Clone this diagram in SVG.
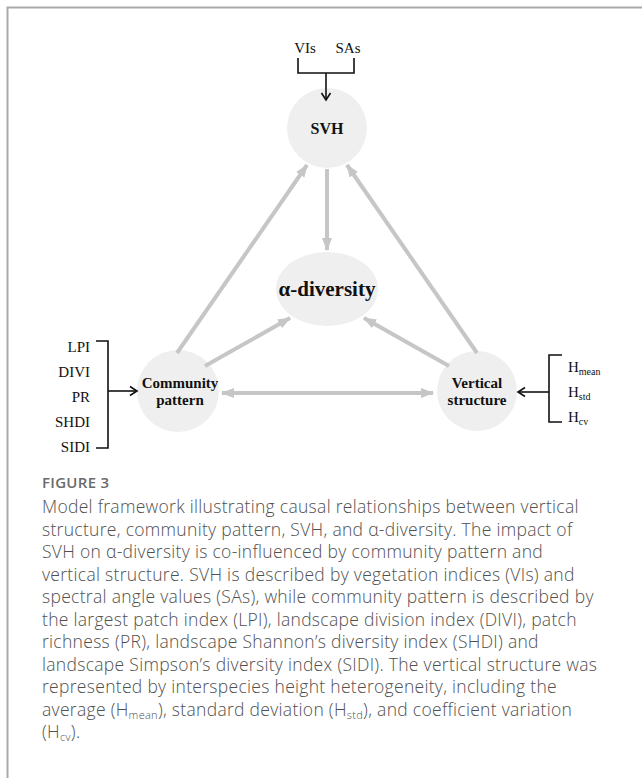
<svg xmlns="http://www.w3.org/2000/svg" width="642" height="778" viewBox="0 0 642 778">
<style>
.lbl{font-family:"Liberation Serif",serif;font-size:15px;fill:#111}
.nd{font-family:"Liberation Serif",serif;font-weight:bold;fill:#111}
.cap{font-family:"Open Sans","Noto Sans",sans-serif;font-size:17.5px;font-weight:300;letter-spacing:0.3px;fill:#505050}
.blk{stroke:#111;stroke-width:1.6;fill:none}
.gr{stroke:#c6c6c6;stroke-width:4;fill:none}
.node{fill:#efefef}
</style>
<defs>
<marker id="open" markerWidth="12" markerHeight="12" refX="9" refY="6" orient="auto" markerUnits="userSpaceOnUse">
<path d="M2,1.5 L9,6 L2,10.5" fill="none" stroke="#111" stroke-width="1.6"/>
</marker>
<marker id="gh" markerWidth="14" markerHeight="12" refX="12" refY="5" orient="auto-start-reverse" markerUnits="userSpaceOnUse">
<path d="M0,0 L13,5 L0,10 Z" fill="#c6c6c6"/>
</marker>
</defs>
<rect width="642" height="778" fill="#fff"/>
<path d="M7.5,778 V7.5 H642" fill="none" stroke="#aaa" stroke-width="2"/>

<g id="svh"><circle class="node" cx="327" cy="128" r="40"/><text class="nd" x="327" y="134" font-size="16" text-anchor="middle">SVH</text></g>
<g id="alpha"><ellipse class="node" cx="327" cy="289" rx="51" ry="37"/><text class="nd" x="327" y="296" font-size="21" text-anchor="middle">α-diversity</text></g>
<g id="community"><circle class="node" cx="178" cy="391" r="41"/><text class="nd" x="180" y="388" font-size="15" text-anchor="middle">Community</text><text class="nd" x="180" y="405" font-size="15" text-anchor="middle">pattern</text></g>
<g id="vertical"><circle class="node" cx="477" cy="391" r="40"/><text class="nd" x="477" y="388" font-size="15" text-anchor="middle">Vertical</text><text class="nd" x="477" y="405" font-size="15" text-anchor="middle">structure</text></g>

<g id="svh-inputs">
<text class="lbl" x="305" y="53" font-size="16" text-anchor="middle">VIs</text>
<text class="lbl" x="348" y="53" font-size="16" text-anchor="middle">SAs</text>
</g>
<g id="community-inputs">
<text class="lbl" x="90" y="352" text-anchor="end">LPI</text>
<text class="lbl" x="90" y="377" text-anchor="end">DIVI</text>
<text class="lbl" x="90" y="402" text-anchor="end">PR</text>
<text class="lbl" x="90" y="427" text-anchor="end">SHDI</text>
<text class="lbl" x="90" y="452" text-anchor="end">SIDI</text>
</g>
<g id="vertical-inputs">
<text class="lbl" x="568" y="372">H<tspan font-size="10" dy="3">mean</tspan></text>
<text class="lbl" x="568" y="397">H<tspan font-size="10" dy="3">std</tspan></text>
<text class="lbl" x="568" y="422">H<tspan font-size="10" dy="3">cv</tspan></text>
</g>

<g id="connectors">
<path class="blk" d="M298,58 V73 H354 V58"/>
<path class="blk" d="M326,73 V100" marker-end="url(#open)"/>
<path class="blk" d="M96,341 H108 V448 H96"/>
<path class="blk" d="M108,391 H137" marker-end="url(#open)"/>
<path class="blk" d="M562,355 H549 V422 H562"/>
<path class="blk" d="M549,392 H518" marker-end="url(#open)"/>
<line class="gr" x1="177" y1="353" x2="307" y2="165" marker-end="url(#gh)"/>
<line class="gr" x1="477" y1="353" x2="347" y2="165" marker-end="url(#gh)"/>
<line class="gr" x1="327" y1="169" x2="327" y2="250" marker-end="url(#gh)"/>
<line class="gr" x1="205" y1="366" x2="290" y2="318" marker-end="url(#gh)"/>
<line class="gr" x1="449" y1="366" x2="364" y2="318" marker-end="url(#gh)"/>
<line class="gr" x1="222" y1="393" x2="433" y2="393" marker-start="url(#gh)" marker-end="url(#gh)"/>
</g>

<g id="caption">
<text x="42" y="488" font-family="'Open Sans','Noto Sans',sans-serif" font-size="15" font-weight="600" fill="#6a6a6a" letter-spacing="0.3">FIGURE 3</text>
<text class="cap" x="42" y="513">Model framework illustrating causal relationships between vertical</text>
<text class="cap" x="42" y="535.5">structure, community pattern, SVH, and α-diversity. The impact of</text>
<text class="cap" x="42" y="558">SVH on α-diversity is co-influenced by community pattern and</text>
<text class="cap" x="42" y="580.5">vertical structure. SVH is described by vegetation indices (VIs) and</text>
<text class="cap" x="42" y="603">spectral angle values (SAs), while community pattern is described by</text>
<text class="cap" x="42" y="625.5">the largest patch index (LPI), landscape division index (DIVI), patch</text>
<text class="cap" x="42" y="648">richness (PR), landscape Shannon’s diversity index (SHDI) and</text>
<text class="cap" x="42" y="670.5">landscape Simpson’s diversity index (SIDI). The vertical structure was</text>
<text class="cap" x="42" y="693">represented by interspecies height heterogeneity, including the</text>
<text class="cap" x="42" y="715.5">average (H<tspan font-size="11" dy="3">mean</tspan><tspan dy="-3">), standard deviation (H</tspan><tspan font-size="11" dy="3">std</tspan><tspan dy="-3">), and coefficient variation</tspan></text>
<text class="cap" x="42" y="738">(H<tspan font-size="11" dy="3">cv</tspan><tspan dy="-3">).</tspan></text>
</g>
</svg>
